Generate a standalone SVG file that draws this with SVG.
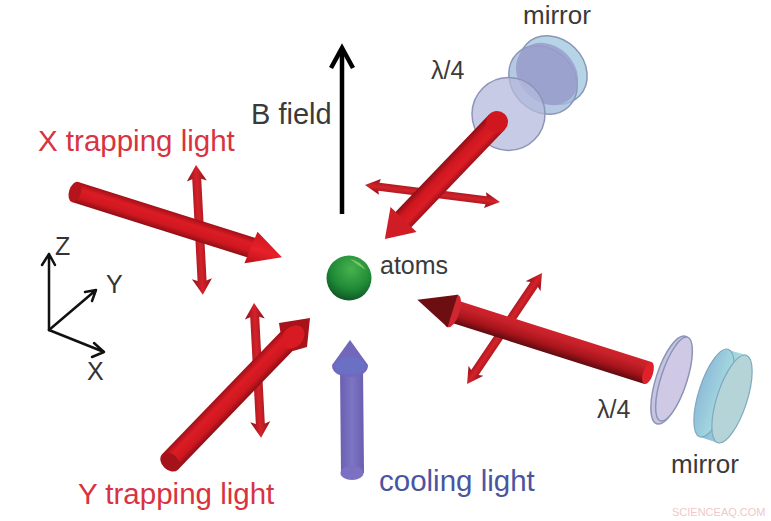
<svg xmlns="http://www.w3.org/2000/svg" width="771" height="521" viewBox="0 0 771 521">
<style>
text{font-family:"Liberation Sans",Arial,sans-serif}
.lbl{font-size:26px;fill:#3a3a3a}
.red{font-size:29.5px;fill:#d8333f}
.ax{font-size:25px;fill:#333}
.axl{stroke:#111;stroke-width:2.5;fill:none;stroke-linecap:round;stroke-linejoin:round}
.s{fill:url(#gs)}
.h{fill:url(#gh)}
.ss{fill:url(#gd)}
.lens{stroke:#8c95b8;stroke-width:1.5}
</style>
<defs>
<linearGradient id="gs" x1="0" y1="0" x2="0" y2="1"><stop offset="0" stop-color="#a01019"/><stop offset=".3" stop-color="#dc1c24"/><stop offset=".7" stop-color="#cf1720"/><stop offset="1" stop-color="#8f0e15"/></linearGradient>
<linearGradient id="gr" x1="0" y1="0" x2="0" y2="1"><stop offset="0" stop-color="#5e0b10"/><stop offset=".35" stop-color="#a8141b"/><stop offset=".75" stop-color="#c6212a"/><stop offset="1" stop-color="#d0222c"/></linearGradient>
<linearGradient id="gh" x1="0" y1="0" x2="0" y2="1"><stop offset="0" stop-color="#cc161e"/><stop offset=".5" stop-color="#e8202a"/><stop offset="1" stop-color="#b81119"/></linearGradient>
<linearGradient id="gd" x1="0" y1="0" x2="0" y2="1"><stop offset="0" stop-color="#8f1218"/><stop offset=".5" stop-color="#d5222a"/><stop offset="1" stop-color="#8c111a"/></linearGradient>
<linearGradient id="gb" x1="0" y1="0" x2="1" y2="0"><stop offset="0" stop-color="#6a5fb0"/><stop offset=".5" stop-color="#7d74c4"/><stop offset="1" stop-color="#6a5fae"/></linearGradient>
<linearGradient id="gm" x1="0" y1="0" x2="1" y2="0"><stop offset="0" stop-color="#8fbcd8"/><stop offset="1" stop-color="#a9dfe2"/></linearGradient>
<radialGradient id="gg" cx=".55" cy=".3" r=".75"><stop offset="0" stop-color="#46b34e"/><stop offset=".6" stop-color="#1f8a36"/><stop offset="1" stop-color="#0c4f22"/></radialGradient>
</defs>
<rect width="771" height="521" fill="#fff"/>

<g id="mirror-top">
<ellipse cx="553" cy="70" rx="37" ry="31" transform="rotate(45 553 70)" fill="#b5d5e6" class="lens"/>
<ellipse cx="543" cy="80" rx="37" ry="31" transform="rotate(45 543 80)" fill="#a3bcdc" fill-opacity=".8" class="lens"/>
<ellipse cx="547" cy="74" rx="34" ry="28" transform="rotate(45 547 74)" fill="#9a9ccb" fill-opacity=".85"/>
</g>
<g id="waveplate-top">
<ellipse cx="508.500" cy="114" rx="36.500" ry="36.500" fill="#b6b9dc" fill-opacity=".75" class="lens"/>
</g>
<g id="waveplate-right">
<ellipse cx="671" cy="380" rx="15" ry="46" transform="rotate(18 671 380)" fill="#c7c4e2" class="lens"/>
<ellipse cx="674" cy="379" rx="13" ry="44" transform="rotate(18 674 379)" fill="#cfc9e6" class="lens"/>
</g>
<g id="mirror-right">
<path d="M728 350L747 355L718 443L700 437Z" fill="url(#gm)"/>
<ellipse cx="714" cy="393" rx="15" ry="46" transform="rotate(18 714 393)" fill="url(#gm)" stroke="#7ea8bd" stroke-width="1.2"/>
<ellipse cx="732" cy="399" rx="15" ry="46" transform="rotate(18 732 399)" fill="#b4d4d8" stroke="#7ea8bd" stroke-width="1.2"/>
</g>

<g id="connectors">
<g id="b-field">
<path d="M342 214V50" stroke="#000" stroke-width="4.5" fill="none"/>
<path d="M331 68L342 48L353 68" stroke="#000" stroke-width="4.500" fill="none"/>
</g>
<g id="pol-x" transform="translate(196 165) rotate(87)">
<path class="ss" d="M0 0L16 -10L14 -4.500H116L114 -10L130 0L114 10L116 4.500H14L16 10Z"/>
</g>
<g id="beam-x" transform="translate(75 192) rotate(17.500)">
<rect class="s" x="0" y="-10.500" width="186" height="21"/>
<ellipse cx="0" cy="0" rx="6" ry="10.500" fill="#b5141c"/>
<path class="h" d="M186 -17L217 0L183 17Z"/>
</g>
<g id="pol-y" transform="translate(254 303) rotate(87)">
<path class="ss" d="M0 0L16 -10L14 -4.500H121L119 -10L135 0L119 10L121 4.500H14L16 10Z"/>
</g>
<g id="beam-y" transform="translate(170 462) rotate(-46)">
<rect class="s" x="0" y="-11" width="172" height="22"/>
<ellipse cx="0" cy="0" rx="8" ry="11" fill="#a5121a"/>
</g>
<path id="beam-y-head" d="M279 323L310 318L307 347L293 351Q280 340 279 323Z" fill="#a81219"/>
<ellipse id="beam-y-cap" cx="293" cy="337" rx="10" ry="13" transform="rotate(44 293 337)" fill="#d81a22"/>
<g id="pol-top" transform="translate(365 185) rotate(7.200)">
<path class="ss" d="M0 0L15 -8L14 -4H122L121 -8L136 0L121 8L122 4H14L15 8Z"/>
</g>
<g id="beam-top" transform="translate(497 122) rotate(133.800)">
<rect class="s" x="0" y="-11" width="137" height="22"/>
<ellipse cx="0" cy="0" rx="11" ry="11" fill="#d0161f"/>
<path d="M135 -18L162 0L135 18Z" fill="#d01c24"/>
</g>
<g id="pol-right" transform="translate(542 273) rotate(124)">
<path class="ss" d="M0 0L16 -9L14 -4.500H120L118 -9L134 0L118 9L120 4.500H14L16 9Z"/>
</g>
<g id="beam-right" transform="translate(648 373) rotate(197.600)">
<rect x="0" y="-11.500" width="205" height="23" fill="url(#gr)"/>
<ellipse cx="0" cy="0" rx="5" ry="11.500" fill="#e0202a"/>
<ellipse cx="205" cy="0" rx="7" ry="17" fill="#d02630"/>
<path d="M205 -17L242 0L205 17Z" fill="#6d0f12"/>
</g>
<g id="beam-cooling">
<path d="M340 368H363L364 473H341Z" fill="url(#gb)"/>
<ellipse cx="352" cy="473" rx="11.500" ry="7" fill="#7b70c2"/>
<path d="M350 340L368 365Q368 376 350 377Q332 376 332 365Z" fill="#7268bb"/>
<ellipse cx="350" cy="366" rx="15" ry="9" fill="#6a70c4"/>
</g>
</g>

<g id="atoms">
<circle cx="349" cy="278" r="22.500" fill="url(#gg)"/>
<path d="M350 259Q360 261 366 270Q357 265 350 259Z" fill="#7cc46a"/>
<text x="380" y="274" style="font-size:25px;fill:#3a3a3a">atoms</text>
</g>

<g id="axes">
<path class="axl" d="M49 330V254M42 265L49 254L55 265"/>
<path class="axl" d="M49 330L96 290M85 292L96 290L92 301"/>
<path class="axl" d="M49 330L104 352M94 343L104 352L92 357"/>
<text x="55" y="255" class="ax">Z</text>
<text x="106" y="293" class="ax">Y</text>
<text x="87" y="380" class="ax">X</text>
</g>

<text x="251" y="124" style="font-size:29px;fill:#3a3a3a">B field</text>
<text x="523" y="24" class="lbl">mirror</text>
<text x="431" y="79" class="lbl" style="font-size:25px">λ/4</text>
<text x="597" y="418" class="lbl" style="font-size:25px">λ/4</text>
<text x="671" y="473" class="lbl">mirror</text>
<text x="38" y="151" class="red">X trapping light</text>
<text x="78" y="504" class="red">Y trapping light</text>
<text x="379" y="491" style="font-size:29.500px;fill:#4a55a0">cooling light</text>
<text x="672" y="516" style="font-size:11px;fill:#f0c8c8">SCIENCEAQ.COM</text>
</svg>
